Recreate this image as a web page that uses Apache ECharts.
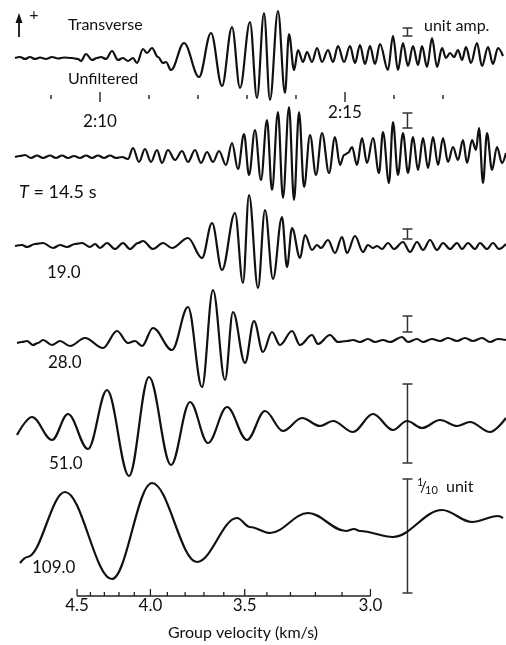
<!DOCTYPE html>
<html><head><meta charset="utf-8">
<script src="https://cdn.jsdelivr.net/npm/echarts@6/dist/echarts.min.js"></script>
<style>html,body{margin:0;padding:0;background:#fff}#c{width:506px;height:645px}</style>
</head><body><div id="c"></div>
<script>
// x: time in minutes after 2:00 ; y: deflection from each trace's baseline (arbitrary counts, up = +)
const unfiltered = [[8.265,-1],[8.367,0],[8.469,-2],[8.571,0],[8.673,-2],[8.776,-0.5],[8.898,-2],[9.021,0],[9.143,-1.5],[9.266,-0.5],[9.429,-1],[9.551,-2],[9.612,-4],[9.714,3],[9.837,-3],[9.939,-1],[10.020,0],[10.122,-2],[10.245,6],[10.367,-3],[10.469,-1],[10.571,-4],[10.673,-1],[10.755,-6],[10.877,8],[10.959,4],[11.061,9],[11.183,0],[11.285,-6],[11.346,-5],[11.449,-13],[11.715,14],[12.021,-20],[12.265,24],[12.490,-29],[12.694,30],[12.857,-31],[13.061,35],[13.204,-41],[13.347,44],[13.469,-43],[13.632,46],[13.775,-36],[13.857,23],[13.960,-13],[14.041,7],[14.143,-5],[14.225,5],[14.327,-5],[14.429,9],[14.531,-5],[14.653,7],[14.755,-5],[14.857,11],[14.980,-5],[15.102,11],[15.204,-6],[15.306,12],[15.408,-7],[15.510,11],[15.612,-7],[15.714,13],[15.877,-13],[15.979,21],[16.081,-13],[16.183,14],[16.285,-9],[16.388,11],[16.490,-8],[16.572,11],[16.674,-10],[16.776,19],[16.878,-10],[16.980,9],[17.061,-1],[17.143,4],[17.225,0],[17.306,7],[17.388,-3],[17.469,10],[17.571,-6],[17.694,14],[17.796,-9],[17.918,10],[18.020,-7],[18.122,9],[18.224,1]];
const period145 = [[8.265,0],[8.367,1],[8.469,2],[8.591,-1],[8.714,1.5],[8.837,-1],[8.980,1.5],[9.102,-1],[9.225,1.5],[9.347,-1],[9.470,1],[9.592,-1],[9.714,1.5],[9.837,-1],[9.959,1.5],[10.082,-1],[10.204,1.5],[10.326,-1],[10.449,0],[10.571,-2],[10.673,9],[10.796,-5],[10.918,8],[11.040,-5],[11.163,7],[11.265,-6],[11.387,7],[11.531,-3],[11.674,6],[11.796,-5],[11.939,7],[12.061,-6],[12.184,5],[12.306,-5],[12.429,6],[12.571,-8],[12.694,14],[12.816,-12],[12.939,23],[13.041,-18],[13.163,27],[13.285,-23],[13.408,37],[13.510,-33],[13.632,45],[13.734,-41],[13.857,50],[13.960,-43],[14.062,45],[14.164,-30],[14.286,22],[14.408,-18],[14.531,24],[14.674,-16],[14.796,20],[14.898,-8],[14.980,2],[15.061,4],[15.143,10],[15.245,-8],[15.347,19],[15.449,-6],[15.571,19],[15.694,-16],[15.775,25],[15.898,-26],[15.979,35],[16.081,-18],[16.183,24],[16.285,-16],[16.388,20],[16.490,-13],[16.592,19],[16.694,-11],[16.796,20],[16.898,-8],[17.000,19],[17.102,-5],[17.204,10],[17.306,-3],[17.408,17],[17.490,-6],[17.592,17],[17.673,7],[17.735,29],[17.816,-26],[17.898,24],[18.000,-13],[18.102,10],[18.204,-6],[18.285,4]];
const period19 = [[8.265,0],[8.408,1],[8.510,-1],[8.673,2],[8.837,3],[9.041,-2],[9.184,1],[9.327,-1],[9.490,2],[9.633,3],[9.796,-1],[9.898,2],[10.000,-2],[10.143,3],[10.306,-3],[10.469,3],[10.612,-3],[10.775,3],[10.877,5],[11.081,-3],[11.285,3],[11.470,-2],[11.796,8],[12.082,-12],[12.286,23],[12.490,-24],[12.755,33],[12.918,-37],[13.041,51],[13.224,-42],[13.367,36],[13.530,-33],[13.714,29],[13.816,-21],[13.919,18],[14.082,-12],[14.184,11],[14.327,-4],[14.429,1],[14.510,-2],[14.653,6],[14.796,-7],[14.939,9],[15.041,-7],[15.204,10],[15.367,-6],[15.469,1],[15.571,-2],[15.653,0],[15.755,-3],[15.877,3],[16.000,-3],[16.183,4],[16.327,-6],[16.470,4],[16.592,-4],[16.735,6],[16.878,-4],[17.000,3],[17.143,-3],[17.286,3],[17.388,-3],[17.510,3],[17.653,-3],[17.755,3],[17.898,-3],[18.020,3],[18.143,-3],[18.285,2]];
const period28 = [[8.306,0],[8.408,1],[8.510,2],[8.632,-2],[8.734,0],[8.837,3],[9.021,-2],[9.184,2],[9.388,-3],[9.694,5],[10.061,-5],[10.347,12],[10.571,0],[10.714,2],[10.857,-3],[11.081,15],[11.470,-7],[11.796,36],[12.082,-44],[12.306,53],[12.551,-37],[12.714,31],[12.959,-20],[13.143,22],[13.326,-9],[13.510,11],[13.673,-2],[13.919,12],[14.082,-2],[14.327,8],[14.449,-1],[14.694,8],[14.857,1],[15.041,2],[15.163,3],[15.306,1],[15.469,4],[15.612,1],[15.775,3],[15.918,1],[16.163,6],[16.285,1],[16.470,4],[16.592,1],[16.776,4],[16.939,2],[17.102,5],[17.286,2],[17.449,5],[17.612,2],[17.796,5],[17.959,1],[18.122,4],[18.285,3]];
const period51 = [[8.306,-5],[8.612,13],[9.021,-10],[9.347,16],[9.755,-19],[10.143,40],[10.592,-46],[11.000,53],[11.449,-35],[11.837,28],[12.204,-13],[12.592,23],[13.000,-10],[13.367,19],[13.734,-1],[14.123,12],[14.490,4],[14.755,9],[15.163,-2],[15.571,16],[15.979,0],[16.265,9],[16.572,2],[16.939,10],[17.286,4],[17.551,8],[17.959,-2],[18.285,12]];
const period109 = [[8.367,-33],[8.520,-27],[9.286,38],[10.245,-49],[11.061,47],[11.980,-32],[12.796,12],[13.061,3],[13.469,-3],[14.245,17],[15.020,-1],[15.184,1],[15.306,-1],[15.979,-7],[16.980,20],[17.592,8],[18.122,14],[18.224,12]];
const traceLabels = ['Unfiltered', 'T = 14.5 s', '19.0', '28.0', '51.0', '109.0'];
// scale bars (low, high) in each trace's counts, drawn at time scaleBarTime
const scaleBarTime = 16.275;
const scaleBars = [[21,29],[29,44],[7,17],[11,27],[-33,46],[-63,51]];
// time ticks (minutes after 2:00) and their labels
const timeTickMinutes = [9,10,11,12,13,14,15,16,17];
const timeTickLabels = ['','2:10','','','','','2:15','',''];
// group velocity axis (km/s): arrival time = originMin + distanceKm/(60 v)
const velocityTicks = [4.5,4.4,4.3,4.2,4.1,4.0,3.9,3.8,3.7,3.6,3.5,3.4,3.3,3.2,3.1,3.0];
const velocityLabels = [4.5,4.0,3.5,3.0];
const originMin = -2.442, distanceKm = 3233;

const velToMin = v => originMin + distanceKm / 60 / v;
const FONT = 'Lato, "Noto Sans", sans-serif';
const INK = '#111';
// layout (px)
const baselines = [57,157,246,343,430,530];
const tickRowY = 97, velAxisY = 596, HALF = 45;
const labelDy = {'2:10': 25, '2:15': 16};

const chart = echarts.init(document.getElementById('c'), null, {renderer:'canvas'});
const grids = [], xAxes = [], yAxes = [], series = [];
function addGrid(b) {
  const i = grids.length;
  grids.push({left:2, right:1.75, top:b-HALF, height:2*HALF, containLabel:false, outerBoundsMode:'none'});
  xAxes.push({gridIndex:i, type:'value', min:8, max:18.25, show:false});
  yAxes.push({gridIndex:i, type:'value', min:-HALF, max:HALF, show:false});
  return i;
}
const seg = (x1,y1,x2,y2,w,c) => ({type:'line', shape:{x1,y1,x2,y2}, style:{stroke:c||INK, lineWidth:w||1.5}});
const traces = [unfiltered, period145, period19, period28, period51, period109];
traces.forEach((d, k) => {
  const i = addGrid(baselines[k]);
  series.push({type:'line', xAxisIndex:i, yAxisIndex:i, data:d, smooth:0.36, smoothMonotone:'x',
    showSymbol:false, symbol:'none', clip:false, silent:true, animation:false,
    lineStyle:{color:INK, width:2.2}});
  series.push({type:'custom', xAxisIndex:i, yAxisIndex:i, clip:false, silent:true, animation:false,
    data:[[scaleBarTime, scaleBars[k][0], scaleBars[k][1]]], encode:{x:0, y:[1,2]},
    renderItem:(p, api) => {
      const a = api.coord([api.value(0), api.value(1)]), b = api.coord([api.value(0), api.value(2)]);
      const w = 5;
      return {type:'group', children:[seg(a[0],a[1],b[0],b[1],1.5,'#333'), seg(a[0]-w,a[1],a[0]+w,a[1],1.5,'#333'), seg(b[0]-w,b[1],b[0]+w,b[1],1.5,'#333')]};
    }});
});
// time tick row
{
  const i = addGrid(tickRowY);
  series.push({type:'custom', xAxisIndex:i, yAxisIndex:i, clip:false, silent:true, animation:false,
    data: timeTickMinutes.map((m, j) => [m, 0, j]), encode:{x:0, y:1},
    renderItem:(p, api) => {
      const c = api.coord([api.value(0), 0]);
      const lab = timeTickLabels[api.value(2)];
      if (!lab) return seg(c[0], c[1]-2, c[0], c[1]+2, 1.3);
      return {type:'group', children:[seg(c[0], c[1]-5, c[0], c[1]+5, 1.3),
        {type:'text', style:{text:lab, x:c[0], y:c[1]+labelDy[lab], textAlign:'center', textVerticalAlign:'middle', font:'17px ' + FONT, fill:INK}}]};
    }});
}
// group velocity axis
{
  const i = addGrid(velAxisY);
  series.push({type:'line', xAxisIndex:i, yAxisIndex:i, data:[[velToMin(velocityTicks[0]),0],[velToMin(velocityTicks[velocityTicks.length-1]),0]],
    showSymbol:false, symbol:'none', clip:false, silent:true, animation:false, lineStyle:{color:'#222', width:1.5}});
  series.push({type:'custom', xAxisIndex:i, yAxisIndex:i, clip:false, silent:true, animation:false,
    data: velocityTicks.map(v => [velToMin(v), 0, v]), encode:{x:0, y:1},
    renderItem:(p, api) => {
      const c = api.coord([api.value(0), 0]);
      const v = api.value(2);
      const major = velocityLabels.some(L => Math.abs(L - v) < 1e-6);
      if (!major) return seg(c[0], c[1], c[0], c[1]-4, 1.3, '#222');
      return {type:'group', children:[seg(c[0], c[1], c[0], c[1]-7, 1.3, '#222'),
        {type:'text', style:{text:v.toFixed(1), x:c[0], y:c[1]+10, textAlign:'center', textVerticalAlign:'middle', font:'17px ' + FONT, fill:INK}}]};
    }});
}

const txt = (text, x, y, size, extra) => Object.assign({type:'text', silent:true, style:Object.assign({text, x, y, font:(size||16)+'px ' + FONT, fill:INK, textAlign:'left', textVerticalAlign:'middle'}, extra||{})});
const graphic = [
  {type:'line', silent:true, shape:{x1:19, y1:37, x2:19, y2:21}, style:{stroke:INK, lineWidth:1.8}},
  {type:'polygon', silent:true, shape:{points:[[15.5,23],[22.5,23],[19,13]]}, style:{fill:INK}},
  txt('+', 34, 15, 16, {textAlign:'center'}),
  txt('Transverse', 68, 25, 16),
  txt('unit amp.', 424, 26, 16),
  txt(traceLabels[0], 68, 79, 16),
  {type:'text', silent:true, style:{text:'{i|T} = 14.5 s', x:19, y:192, textVerticalAlign:'middle', font:'18px ' + FONT, fill:INK,
    rich:{i:{fontStyle:'italic', fontSize:18, fontFamily:FONT, fill:INK}}}},
  txt(traceLabels[2], 47, 273, 17),
  txt(traceLabels[3], 48, 363, 17),
  txt(traceLabels[4], 49, 464, 17),
  txt(traceLabels[5], 32, 568, 17),
  txt('1', 417, 482, 11),
  txt('/', 420, 487, 15),
  txt('10', 425, 490, 11),
  txt('unit', 446, 487, 16),
  txt('Group velocity (km/s)', 243, 633, 16, {textAlign:'center'})
];

chart.setOption({animation:false, grid:grids, xAxis:xAxes, yAxis:yAxes, series, graphic});
</script></body></html>
